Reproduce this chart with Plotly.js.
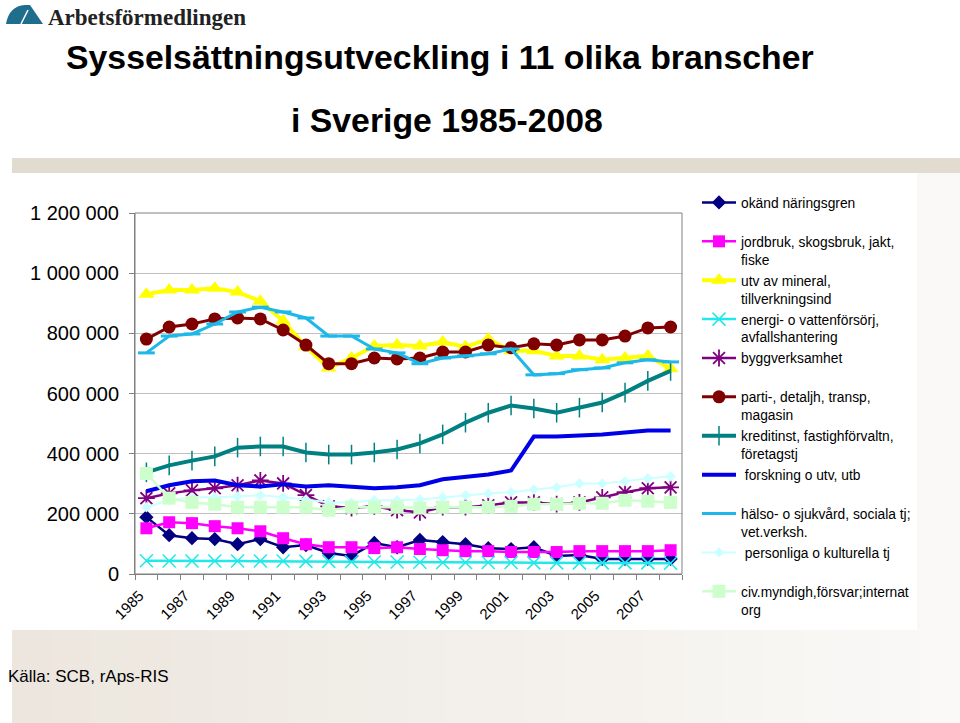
<!DOCTYPE html>
<html>
<head>
<meta charset="utf-8">
<script src="https://cdn.plot.ly/plotly-3.0.1.min.js"></script>
<style>
html,body{margin:0;padding:0;background:#fff;}
#chart{width:960px;height:723px;}
</style>
</head>
<body>
<div id="chart"></div>
<script>
// ---- data ----
var years = ["1985","1986","1987","1988","1989","1990","1991","1992","1993","1994","1995","1996",
             "1997","1998","1999","2000","2001","2002","2003","2004","2005","2006","2007","2008"];
var labelYears = [1985,1987,1989,1991,1993,1995,1997,1999,2001,2003,2005,2007];

var okand = [189000,129000,119000,116000,99000,116000,89000,96000,70000,60000,103000,89000,
             113000,106000,99000,86000,83000,89000,60000,63000,50000,50000,50000,50000];
var jordbruk = [152000,172000,169000,159000,152000,142000,119000,99000,89000,89000,86000,89000,
                83000,79000,76000,76000,73000,73000,73000,76000,76000,76000,76000,79000];
var tillverkning = [930000,944000,944000,950000,937000,907000,841000,755000,685000,718000,758000,761000,
                    758000,771000,755000,781000,742000,742000,725000,725000,712000,718000,725000,682000];
var energi = [44000,43000,43000,43000,43000,43000,43000,42000,42000,41000,40000,40000,
              39000,38000,38000,38000,38000,37000,37000,37000,37000,37000,37000,36000];
var bygg = [252000,268000,278000,285000,295000,311000,301000,262000,225000,219000,225000,212000,
            205000,222000,222000,228000,238000,238000,232000,238000,255000,272000,285000,288000];
var handel = [781000,821000,831000,848000,851000,848000,811000,761000,699000,699000,718000,715000,
              718000,738000,738000,761000,752000,765000,761000,778000,778000,791000,818000,821000];
var kredit = [338000,361000,377000,391000,420000,424000,424000,404000,397000,397000,404000,414000,
              434000,464000,503000,536000,560000,550000,536000,553000,570000,603000,642000,675000];
var forskning = [275000,295000,308000,311000,295000,291000,298000,291000,295000,291000,285000,288000,
                 295000,315000,324000,331000,344000,457000,457000,460000,464000,470000,477000,477000];
var halso = [735000,791000,798000,831000,871000,887000,871000,851000,791000,791000,748000,735000,
             699000,718000,725000,732000,748000,662000,666000,679000,685000,702000,712000,705000];
var personliga = [222000,245000,255000,255000,258000,262000,255000,248000,238000,238000,245000,245000,
                  248000,255000,262000,268000,272000,281000,288000,301000,301000,308000,318000,324000];
var civ = [334000,252000,238000,232000,222000,222000,222000,222000,212000,222000,222000,222000,
           219000,222000,222000,222000,225000,232000,232000,235000,235000,245000,242000,238000];

var seriesNames = [
  "okänd näringsgren<br> ",
  "jordbruk, skogsbruk, jakt,<br>fiske",
  "utv av mineral,<br>tillverkningsind",
  "energi- o vattenförsörj,<br>avfallshantering",
  "byggverksamhet<br> ",
  "parti-, detaljh, transp,<br>magasin",
  "kreditinst, fastighförvaltn,<br>företagstj",
  " forskning o utv, utb<br> ",
  "hälso- o sjukvård, sociala tj;<br>vet.verksh.",
  " personliga o kulturella tj<br> ",
  "civ.myndigh,försvar;internat<br>org"
];

// ---- geometry helpers (pixel -> paper) ----
var L = 135, R = 682, T = 213, B = 574;
function px(x){ return (x - L) / (R - L); }
function py(y){ return (B - y) / (B - T); }

function tr(name, y, color, lw, sym, msize, mline, mcolor){
  var t = {
    type: "scatter", mode: sym ? "lines+markers" : "lines",
    x: years, y: y, name: name,
    line: {color: color, width: lw},
    hoverinfo: "skip"
  };
  if (sym) {
    t.marker = {symbol: sym, size: msize, color: mcolor || color,
                line: {color: mcolor || color, width: mline || 0}};
  }
  return t;
}

var data = [
  tr(seriesNames[0], okand, "#000080", 2.5, "diamond", 11),
  tr(seriesNames[1], jordbruk, "#FF00FF", 2.5, "square", 12),
  tr(seriesNames[2], tillverkning, "#FFFF00", 4, "triangle-up", 14),
  tr(seriesNames[3], energi, "#22E8E8", 2.5, "x-thin-open", 13, 1.5),
  tr(seriesNames[4], bygg, "#800080", 2.5, "asterisk-open", 14, 1.8),
  tr(seriesNames[5], handel, "#800000", 3, "circle", 13),
  tr(seriesNames[6], kredit, "#008080", 4, "line-ns-open", 14, 1.5),
  tr(seriesNames[7], forskning, "#0000E6", 4, null),
  tr(seriesNames[8], halso, "#1EB8E8", 3, "line-ew-open", 12, 3),
  tr(seriesNames[9], personliga, "#CCFFFF", 2, "diamond", 8),
  tr(seriesNames[10], civ, "#CCFFCC", 2.5, "square", 13)
];

function band(x0, x1, y0, y1, c){
  return {type:"rect", xref:"paper", yref:"paper", layer:"below",
          x0:px(x0), x1:px(x1), y0:py(y0), y1:py(y1), fillcolor:c, line:{width:0}};
}

var shapes = [];
// slide background panel: smooth stepped gradient (left beige -> right near white)
var nSteps = 24, c0 = [236,230,222], c1 = [250,249,247];
for (var s = 0; s < nSteps; s++) {
  var f = s / (nSteps - 1);
  var c = "rgb(" + c0.map(function(v, k){ return Math.round(v + (c1[k] - v) * f); }).join(",") + ")";
  var xa = 12 + (960 - 12) * s / nSteps, xb = 12 + (960 - 12) * (s + 1) / nSteps + 1;
  shapes.push(band(xa, xb, 158, 723, c));
}
shapes.push(band(12, 960, 158, 173, "#E2DBD0"));
// white chart box
shapes.push(band(0, 917, 173, 630, "#FFFFFF"));
// plot area frame
shapes.push({type:"rect", xref:"paper", yref:"paper", layer:"above",
   x0:0, x1:1, y0:0, y1:1, line:{color:"#808080", width:1}});
// logo mark
shapes.push({type:"path", xref:"paper", yref:"paper", layer:"above",
   path: "M"+px(6)+","+py(24)+" Q"+px(9)+","+py(6)+" "+px(25)+","+py(5)+" L"+px(30)+","+py(5)+" L"+px(43)+","+py(24)+" Z",
   fillcolor:"#1F6E8E", line:{width:0}});
shapes.push({type:"line", xref:"paper", yref:"paper", layer:"above",
   x0:px(21), y0:py(24), x1:px(28), y1:py(10), line:{color:"#FFFFFF", width:1.5}});

var annotations = [
  {xref:"paper", yref:"paper", x:px(440), y:py(57), xanchor:"center", yanchor:"middle", showarrow:false,
   text:"<b>Sysselsättningsutveckling i 11 olika branscher</b>",
   font:{family:"Liberation Sans, Arial, sans-serif", size:33.8, color:"#000"}},
  {xref:"paper", yref:"paper", x:px(447), y:py(120), xanchor:"center", yanchor:"middle", showarrow:false,
   text:"<b>i Sverige 1985-2008</b>",
   font:{family:"Liberation Sans, Arial, sans-serif", size:33.8, color:"#000"}},
  {xref:"paper", yref:"paper", x:px(46), y:py(17), xanchor:"left", yanchor:"middle", showarrow:false,
   text:"<b>Arbetsförmedlingen</b>",
   font:{family:"Liberation Serif, Times New Roman, serif", size:23, color:"#222"}},
  {xref:"paper", yref:"paper", x:px(6), y:py(676), xanchor:"left", yanchor:"middle", showarrow:false,
   text:"Källa: SCB, rAps-RIS",
   font:{family:"Liberation Sans, Arial, sans-serif", size:17, color:"#000"}}
];

var layout = {
  width: 960, height: 723,
  margin: {l: L, r: 960 - R, t: T, b: 723 - B, pad: 0},
  paper_bgcolor: "#FFFFFF", plot_bgcolor: "#FFFFFF",
  separators: ", ",
  font: {family: "Liberation Sans, Arial, sans-serif", color: "#000"},
  showlegend: true,
  legend: {
    x: px(697), y: py(187), xanchor: "left", yanchor: "top",
    bgcolor: "rgba(0,0,0,0)", borderwidth: 0,
    font: {size: 13.8, family: "Liberation Sans, Arial, sans-serif", color: "#000"},
    valign: "top", tracegroupgap: 0, itemwidth: 34, maxheight: 600
  },
  xaxis: {
    type: "linear", range: [1984.5, 2008.5],
    tickmode: "array", tickvals: labelYears, ticktext: labelYears.map(String),
    ticks: "", tickangle: -45,
    tickfont: {size: 15, family: "Liberation Sans, Arial, sans-serif"},
    showgrid: false, zeroline: false,
    showline: true, linecolor: "#808080", linewidth: 1,
    minor: {tick0: 1984.5, dtick: 1, ticks: "outside", ticklen: 5, tickcolor: "#808080", showgrid: false},
    ticklabelstandoff: 6, ticklabelshift: -7
  },
  yaxis: {
    range: [0, 1200000], dtick: 200000, tickformat: ",d",
    ticks: "outside", ticklen: 5, tickcolor: "#808080",
    tickfont: {size: 20, family: "Liberation Sans, Arial, sans-serif"},
    showgrid: true, gridcolor: "#C0C0C0", gridwidth: 1,
    zeroline: false, showline: true, linecolor: "#808080", linewidth: 1,
    ticklabelstandoff: 6
  },
  shapes: shapes,
  annotations: annotations
};

Plotly.newPlot("chart", data, layout, {displayModeBar: false, staticPlot: true});
</script>
</body>
</html>
